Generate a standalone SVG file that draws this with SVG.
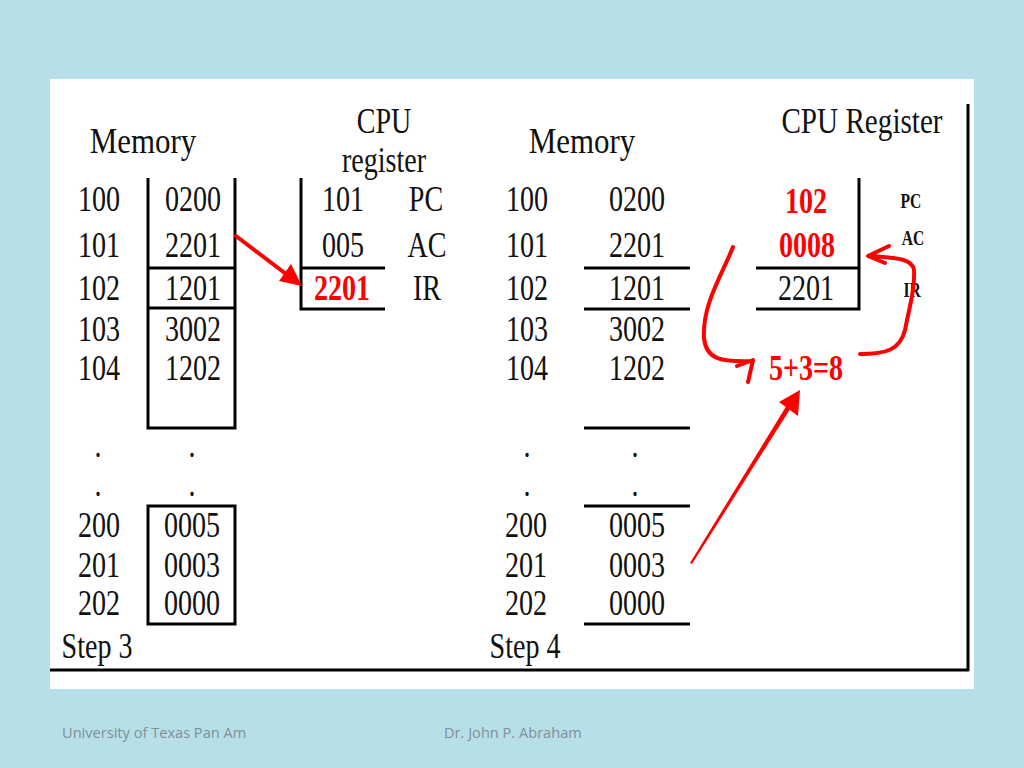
<svg xmlns="http://www.w3.org/2000/svg" width="1024" height="768" viewBox="0 0 1024 768">
<style>
.t{font-family:"Liberation Serif","Times New Roman",serif;font-size:36px;fill:#111;text-anchor:middle;transform:scaleX(.78);transform-box:fill-box;transform-origin:center}
.m{transform:scaleX(.86)}
.w{transform:scaleX(.81)}
.r{fill:#f00;font-weight:bold}
.s{font-size:20px;font-weight:bold}
.ln{stroke:#000;stroke-width:3;fill:none}
.ar{stroke:#f00;stroke-width:4;fill:none;stroke-linecap:round;stroke-linejoin:round}
.ah{fill:#f00}
.f{font-family:"Open Sans","Noto Sans",sans-serif;font-size:14.6px;fill:#7f8f98}
</style>
<rect width="1024" height="768" fill="#b7dfe8"/>
<rect x="50" y="79" width="924" height="610" fill="#fff"/>
<g id="frame">
<path class="ln" d="M968,104 V671 M50,670 H969"/>
</g>
<g id="memory-step3">
<text class="t m" x="143" y="153">Memory</text>
<path class="ln" d="M148,178 V428 H235 V178 M148,268 H235 M148,308 H235"/>
<rect class="ln" x="148" y="506" width="87" height="118"/>
<text class="t" x="99" y="211">100</text><text class="t" x="193" y="211">0200</text>
<text class="t" x="99" y="257">101</text><text class="t" x="193" y="257">2201</text>
<text class="t" x="99" y="300">102</text><text class="t" x="193" y="300">1201</text>
<text class="t" x="99" y="341">103</text><text class="t" x="193" y="341">3002</text>
<text class="t" x="99" y="380">104</text><text class="t" x="193" y="380">1202</text>
<text class="t" x="98" y="457">.</text><text class="t" x="192" y="457">.</text>
<text class="t" x="98" y="496">.</text><text class="t" x="192" y="496">.</text>
<text class="t" x="99" y="537">200</text><text class="t" x="192" y="537">0005</text>
<text class="t" x="99" y="577">201</text><text class="t" x="192" y="577">0003</text>
<text class="t" x="99" y="615">202</text><text class="t" x="192" y="615">0000</text>
<text class="t" x="97" y="658">Step 3</text>
</g>
<g id="cpu-step3">
<text class="t" x="384" y="133">CPU</text>
<text class="t" x="384" y="172">register</text>
<path class="ln" d="M301,178 V309 H385 M301,268 H385"/>
<text class="t" x="343" y="211">101</text><text class="t" x="426" y="211">PC</text>
<text class="t" x="343" y="257">005</text><text class="t" x="427" y="257">AC</text>
<text class="t r" x="342" y="300">2201</text><text class="t" x="427" y="300">IR</text>
</g>
<g id="memory-step4">
<text class="t m" x="582" y="153">Memory</text>
<path class="ln" d="M584,268 H690 M584,309 H690 M584,428 H690 M584,506 H690 M584,624 H690"/>
<text class="t" x="527" y="211">100</text><text class="t" x="637" y="211">0200</text>
<text class="t" x="527" y="257">101</text><text class="t" x="637" y="257">2201</text>
<text class="t" x="527" y="300">102</text><text class="t" x="637" y="300">1201</text>
<text class="t" x="527" y="341">103</text><text class="t" x="637" y="341">3002</text>
<text class="t" x="527" y="380">104</text><text class="t" x="637" y="380">1202</text>
<text class="t" x="527" y="457">.</text><text class="t" x="635" y="457">.</text>
<text class="t" x="527" y="496">.</text><text class="t" x="635" y="496">.</text>
<text class="t" x="526" y="537">200</text><text class="t" x="637" y="537">0005</text>
<text class="t" x="526" y="577">201</text><text class="t" x="637" y="577">0003</text>
<text class="t" x="526" y="615">202</text><text class="t" x="637" y="615">0000</text>
<text class="t" x="525" y="658">Step 4</text>
</g>
<g id="cpu-step4">
<text class="t w" x="862" y="133">CPU Register</text>
<path class="ln" d="M859,178 V309 H756 M756,268 H859"/>
<text class="t r" x="806" y="213">102</text><text class="t s" x="911" y="208">PC</text>
<text class="t r" x="807" y="257">0008</text><text class="t s" x="913" y="245">AC</text>
<text class="t" x="806" y="300">2201</text><text class="t s" x="912" y="297">IR</text>
</g>
<g id="alu">
<text class="t r" x="806" y="380">5+3=8</text>
</g>
<g id="connectors">
<path class="ar" d="M236,236 L290,277"/>
<polygon class="ah" points="302,286 279,281 291,264"/>
<path class="ar" d="M733,247 C722,275 702,305 704,338 C706,360 722,362 752,361 M737,366 L753,360 L748,382"/>
<path class="ar" d="M860,354 C886,354 900,350 905,330 C910,305 915,288 914,270 C912,258 895,258 870,256 M889,246 L868,256 L885,263"/>
<polygon class="ah" points="690,563 692,564 794,403 790,400"/>
<polygon class="ah" points="800,390 779,402 798,416"/>
</g>
<g id="footer">
<text class="f" x="62" y="738">University of Texas Pan Am</text>
<text class="f" x="444" y="738">Dr. John P. Abraham</text>
</g>
</svg>
